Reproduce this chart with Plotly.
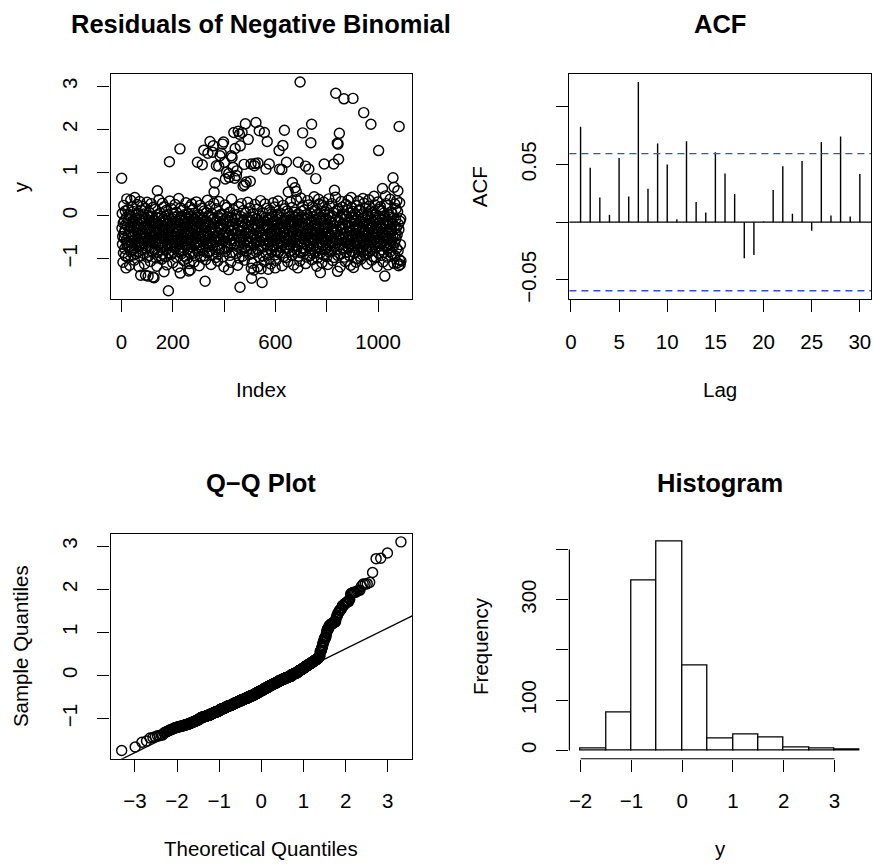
import numpy as np
import plotly.graph_objects as go
from statistics import NormalDist

# ---------------- data ----------------
# residuals in the dense band, in index order (indices not listed as outliers below)
band_values = [
-0.29,0.05,-0.66,-0.48,-1.08,-0.17,-0.86,0.24,-0.40,-0.53,-0.11,-0.76,-0.34,0.11,-0.93,-0.21,-0.57,-0.04,0.39,-0.69,
-0.62,-0.23,0.14,-0.97,-0.45,-0.08,-0.72,-0.37,0.03,-1.15,-0.59,-0.26,-0.83,0.36,-0.02,-0.51,-0.43,-0.79,0.21,-0.15,
-0.74,-0.12,-0.49,0.10,-0.91,-0.27,-0.56,-1.03,-0.19,0.42,-0.68,-0.39,-0.06,-0.88,0.02,-0.33,-0.65,-0.24,0.26,-0.54,
-0.35,-0.84,0.06,-0.60,-0.20,-1.18,-0.46,-0.71,0.33,-0.09,-0.94,-0.30,-0.52,0.13,-0.63,-0.41,-0.14,-0.78,0.22,-0.05,
-0.42,-0.87,-0.13,0.04,-0.64,-0.25,-1.12,-0.53,-0.38,0.17,-0.77,-0.07,-0.48,-0.70,-0.21,0.31,-0.96,-0.32,-0.58,-0.03,
-0.69,-0.29,-0.92,0.07,-0.44,-0.15,-0.57,-1.06,-0.36,-0.75,0.28,-0.01,-0.47,-0.82,-0.18,-0.61,0.19,-0.26,-0.51,-0.09,
-0.11,-0.80,-0.49,-0.23,0.15,-0.65,-0.98,-0.37,-0.04,-0.55,-1.17,-0.31,0.02,-0.85,-0.19,-0.40,-0.67,0.37,-0.06,-0.52,
-0.59,-0.34,0.06,-0.93,-0.17,-0.46,-0.73,-0.02,-1.01,-0.24,-0.62,0.29,-0.89,-0.43,-0.08,-0.54,-0.33,0.21,-0.72,-0.14,
-0.28,-0.95,-0.10,-0.56,0.12,-0.41,-0.78,-1.14,-0.20,-0.66,0.03,-0.48,-0.39,-0.86,-0.05,-0.68,0.34,-0.27,-0.53,-0.12,
-0.63,-0.22,-0.90,0.16,-0.45,-0.07,-0.71,-0.35,-1.09,-0.51,-0.18,0.05,-0.84,-0.30,-0.60,-0.03,-0.47,0.26,-0.76,-0.16,
-0.42,-0.70,0.08,-0.97,-0.26,-0.13,-0.57,-0.49,-1.19,-0.32,-0.83,0.40,-0.09,-0.64,-0.36,-0.21,-0.79,0.18,-0.01,-0.55,
-0.88,-0.29,-0.06,-0.61,0.13,-0.46,-0.74,-0.19,-1.04,-0.38,-0.52,0.02,-0.94,-0.11,-0.44,-0.69,-0.25,0.30,-0.58,-0.04,
-0.31,-0.65,-0.99,-0.17,0.04,-0.48,-0.77,-0.08,-0.53,-1.11,-0.37,0.20,-0.85,-0.23,-0.59,-0.02,-0.40,-0.72,0.27,-0.15,
-0.56,-0.24,0.14,-0.87,-0.43,-0.07,-0.67,-1.07,-0.34,0.06,-0.92,-0.20,-0.51,-0.47,-0.12,-0.75,0.32,-0.30,-0.63,-0.03,
-0.82,-0.14,-0.41,0.03,-0.62,-0.33,-1.16,-0.49,-0.68,0.24,-0.18,-0.96,-0.05,-0.39,-0.54,-0.27,0.17,-0.80,-0.10,-0.60,
-0.45,-0.73,-0.06,0.11,-0.93,-0.28,-0.57,-0.22,-1.02,-0.35,0.07,-0.64,-0.13,-0.86,-0.46,0.36,-0.21,-0.52,-0.71,-0.02,
-0.19,-0.84,-0.48,0.22,-0.66,-0.32,-0.04,-1.13,-0.58,-0.37,0.05,-0.91,-0.26,-0.70,-0.09,-0.42,0.29,-0.55,-0.16,-0.78,
-0.61,-0.36,-0.97,0.16,-0.11,-0.47,-0.69,-0.25,-1.05,-0.01,-0.89,-0.29,0.33,-0.56,-0.40,-0.76,-0.07,0.02,-0.20,-0.53,
-0.31,-0.77,0.04,-0.44,-0.95,-0.12,-0.59,-1.18,-0.23,-0.49,0.25,-0.83,-0.08,-0.38,-0.63,-0.18,0.19,-0.72,-0.03,-0.51,
-0.74,-0.27,-0.46,0.08,-0.92,-0.14,-0.57,-0.34,-1.08,-0.65,0.38,-0.04,-0.85,-0.21,-0.43,-0.54,0.14,-0.30,-0.68,-0.06,
-0.58,-0.17,-0.87,0.03,-0.41,-0.71,-0.09,-1.15,-0.33,-0.52,0.21,-0.98,-0.24,-0.48,-0.62,-0.02,-0.35,0.28,-0.79,-0.15,
-0.28,-0.94,-0.13,0.12,-0.64,-0.47,-1.03,-0.75,-0.19,0.06,-0.39,-0.55,-0.82,-0.05,-0.26,-0.70,0.31,-0.42,-0.60,-0.10,
-0.63,-0.37,-0.90,-0.11,0.18,-0.49,-0.76,-0.22,-1.10,-0.53,-0.03,-0.86,0.05,-0.30,-0.45,-0.67,-0.20,0.26,-0.56,-0.08,
-0.84,-0.32,-0.07,-0.61,0.15,-0.46,-1.19,-0.78,-0.25,-0.40,0.02,-0.96,-0.16,-0.59,-0.36,0.35,-0.69,-0.01,-0.51,-0.18,
-0.44,-0.73,0.07,-0.93,-0.29,-0.12,-0.57,-1.06,-0.34,-0.65,0.27,-0.48,-0.04,-0.88,-0.21,-0.54,0.17,-0.23,-0.70,-0.09,
-0.27,-0.62,-0.99,0.13,-0.42,-0.06,-0.77,-0.38,-1.12,-0.52,-0.17,0.04,-0.83,-0.31,-0.58,-0.02,-0.47,0.30,-0.72,-0.14,
-0.68,-0.24,-0.49,0.20,-0.91,-0.13,-0.55,-1.04,-0.35,-0.80,0.03,-0.08,-0.43,-0.64,-0.20,0.34,-0.85,-0.30,-0.53,-0.03,
-0.60,-0.33,0.06,-0.87,-0.18,-0.46,-0.71,-0.05,-1.16,-0.26,-0.63,0.24,-0.95,-0.41,-0.10,-0.51,-0.37,0.16,-0.74,-0.11,
-0.28,-0.97,-0.07,-0.56,0.11,-0.45,-0.76,-1.07,-0.19,-0.66,0.05,-0.48,-0.36,-0.82,-0.01,-0.69,0.32,-0.22,-0.52,-0.15,
-0.61,-0.25,-0.92,0.19,-0.40,-0.09,-0.70,-0.38,-1.14,-0.54,-0.21,0.08,-0.84,-0.29,-0.59,-0.04,-0.47,0.37,-0.79,-0.12,
-0.42,-0.71,0.04,-0.94,-0.23,-0.10,-0.58,-0.48,-1.05,-0.34,-0.86,0.41,-0.03,-0.62,-0.27,0.10,-0.75,-0.16,0.23,-0.53,
-0.83,-0.30,-0.05,-0.65,0.14,-0.46,-0.78,-0.18,-1.11,-0.36,-0.51,0.02,-0.96,-0.08,-0.40,-0.68,0.35,-0.21,-0.57,0.25,
-0.29,-0.63,-0.93,-0.15,0.06,-0.49,-0.77,-0.11,-0.55,-1.02,-0.37,0.21,-0.88,-0.24,-0.59,-0.02,-0.43,-0.70,0.44,0.12,
-0.56,-0.22,0.13,-0.85,-0.41,-0.09,-0.72,-1.17,-0.35,0.03,-0.98,-0.17,-0.52,-0.47,0.38,-0.74,0.27,-0.31,-0.64,-0.04,
-0.87,-0.12,-0.44,0.05,-0.61,-0.33,-1.09,-0.48,-0.69,0.24,-0.19,-0.91,-0.06,0.31,-0.54,-0.28,0.09,-0.79,-0.25,-0.58,
-0.42,-0.76,-0.07,0.15,-0.95,-0.27,-0.57,-0.20,-1.13,-0.38,0.02,-0.66,0.39,-0.84,-0.46,0.22,-0.16,-0.52,-0.70,-0.03,
-0.14,-0.82,-0.49,0.28,-0.63,-0.30,-0.01,-1.04,-0.59,-0.34,0.07,-0.97,-0.24,-0.71,-0.10,-0.40,0.43,-0.53,0.11,-0.78,
-0.62,-0.36,-0.92,0.16,-0.11,-0.47,-0.68,-0.23,-1.19,-0.05,-0.89,-0.31,0.33,-0.56,-0.43,-0.75,0.04,0.20,-0.18,-0.51,
-0.29,-0.77,0.03,-0.41,-0.96,-0.08,-0.60,-1.06,-0.21,-0.48,0.26,-0.85,-0.02,-0.37,-0.64,-0.17,0.12,-0.72,0.36,-0.54,
-0.74,-0.26,-0.46,0.06,-0.93,-0.15,-0.57,-0.35,-1.15,-0.65,0.42,-0.04,-0.83,0.19,-0.44,-0.52,0.10,-0.32,-0.69,-0.12,
-0.58,-0.19,-0.86,0.05,-0.42,-0.70,-0.09,-1.08,-0.28,-0.55,0.23,-0.99,-0.22,-0.49,-0.61,-0.03,0.34,-0.34,-0.79,0.14,
-0.30,-0.94,-0.13,0.13,-0.63,-0.47,-1.01,-0.76,-0.16,0.02,-0.38,-0.51,-0.84,-0.06,0.40,-0.25,-0.67,0.29,-0.40,-0.59,
-0.66,-0.36,-0.91,-0.10,0.17,-0.48,-0.78,-0.21,-1.12,-0.53,-0.01,-0.88,0.04,-0.33,-0.43,-0.71,0.37,-0.18,0.22,-0.56,
-0.82,-0.29,-0.07,-0.62,0.11,-0.46,-1.03,-0.77,-0.24,-0.41,0.08,-0.95,-0.14,-0.57,-0.35,0.45,-0.68,-0.04,-0.52,0.25,
-0.44,-0.73,0.03,-0.97,-0.27,-0.11,-0.60,-1.18,-0.37,-0.64,0.32,-0.49,-0.05,-0.87,-0.17,-0.54,0.15,-0.23,-0.70,0.21,
-0.26,-0.61,-0.92,0.12,-0.42,-0.08,-0.79,-0.39,-1.07,-0.51,-0.20,0.06,-0.85,-0.31,-0.58,-0.02,-0.47,0.46,-0.72,0.28,
-0.69,-0.22,-0.48,0.24,-0.96,-0.12,-0.55,-1.14,-0.35,-0.75,0.02,-0.03,-0.40,-0.65,-0.15,0.38,-0.83,-0.30,-0.52,0.09,
-0.59,-0.36,0.05,-0.88,-0.19,-0.46,-0.71,-0.06,-1.10,-0.25,-0.63,0.27,-0.93,-0.43,-0.09,-0.54,0.16,-0.28,-0.76,0.35,
-0.44,-1.09,0.09,-0.81,-0.20,-1.16,-0.32,-1.02,0.30,-0.13,-1.13,-0.67,-0.07,-1.05,
]

# clearly separated high residuals (index, value)
high_index = [1,140,187,228,296,315,321,337,345,355,358,361,364,370,379,384,389,394,398,401,
              405,410,418,420,428,431,435,438,441,443,448,450,455,460,463,470,474,478,480,483,
              486,494,502,505,518,521,524,532,537,557,563,568,576,614,616,625,629,635,643,650,
              666,676,681,689,696,706,717,730,738,741,757,790,827,830,835,841,844,846,849,867,
              902,944,972,1002,1017,1058,1062,1077,1082]
high_value = [0.87,0.58,1.25,1.55,1.24,1.18,1.52,1.45,1.72,1.47,1.62,0.55,0.76,1.16,1.15,1.39,1.45,1.66,1.71,1.24,
              0.85,1.01,0.98,0.89,1.39,1.35,1.12,1.93,0.87,1.56,0.93,1.04,1.96,1.89,1.62,1.93,0.69,1.19,0.72,2.13,
              0.78,1.77,0.80,1.20,1.16,1.21,2.16,1.22,1.97,1.93,1.08,1.72,1.20,1.51,1.08,1.07,1.63,1.98,1.24,0.55,
              0.77,0.65,0.56,1.24,3.10,1.92,1.15,1.08,1.69,2.12,0.86,1.20,1.20,0.59,2.84,1.68,1.66,1.31,1.91,2.71,
              2.72,2.39,2.12,1.51,0.63,0.88,0.66,0.58,2.07]

# clearly separated low residuals (index, value)
low_index = [18,75,94,104,123,127,166,183,229,262,268,326,417,462,506,507,516,544,548,572,599,687,775,842,904,1026]
low_value = [-1.21,-1.38,-1.38,-1.40,-1.42,-1.44,-1.30,-1.74,-1.33,-1.28,-1.26,-1.52,-1.25,-1.66,-1.22,-1.45,-1.26,-1.23,-1.55,-1.24,-1.21,-1.21,-1.32,-1.29,-1.20,-1.40]

# autocorrelations, lags 1..30
acf_lag = [1,2,3,4,5,6,7,8,9,10,11,12,13,14,15,16,17,18,19,20,21,22,23,24,25,26,27,28,29,30]
acf_value = [0.0825,0.0471,0.0213,0.0063,0.0555,0.0221,0.1213,0.0290,0.0681,0.0500,
             0.0026,0.0701,0.0175,0.0083,0.0606,0.0420,0.0244,-0.0313,-0.0284,0.0006,
             0.0279,0.0483,0.0072,0.0529,-0.0075,0.0693,0.0057,0.0741,0.0049,0.0417]

hist_breaks = [-2.0,-1.5,-1.0,-0.5,0.0,0.5,1.0,1.5,2.0,2.5,3.0,3.5]

# tick labels
idx_ticks = [0,200,400,600,800,1000]
idx_ticktext = ['0','200','','600','','1000']
res_ticks = [-1,0,1,2,3]
res_ticktext = ['\u22121','0','1','2','3']
acf_yticks = [-0.05,0.0,0.05,0.10]
acf_yticktext = ['\u22120.05','','0.05','']
lag_ticks = [0,5,10,15,20,25,30]
qq_xticks = [-3,-2,-1,0,1,2,3]
qq_xticktext = ['\u22123','\u22122','\u22121','0','1','2','3']
hist_xticks = [-2,-1,0,1,2,3]
hist_xticktext = ['\u22122','\u22121','0','1','2','3']
freq_ticks = [0,100,200,300,400]
freq_ticktext = ['0','100','','300','']

# ---------------- assemble residual series ----------------
special = dict(zip(high_index + low_index, high_value + low_value))
n = len(band_values) + len(special)
band_iter = iter(band_values)
resid = np.array([special[i] if i in special else next(band_iter) for i in range(1, n + 1)])
index = np.arange(1, n + 1)

def rrange(lo, hi):
    d = (hi - lo) * 0.04
    return [lo - d, hi + d]

nd = NormalDist()
theo = np.array([nd.inv_cdf((i - 0.5) / n) for i in range(1, n + 1)])
samp = np.sort(resid)
q1, q3 = np.quantile(resid, [0.25, 0.75])
x1, x3 = nd.inv_cdf(0.25), nd.inv_cdf(0.75)
slope = (q3 - q1) / (x3 - x1)
icpt = q1 - slope * x1

clim = nd.inv_cdf(0.975) / np.sqrt(n)
counts = np.histogram(resid, bins=hist_breaks)[0]

# ---------------- layout geometry (pixels) ----------------
W, H = 874, 865
FONT = 'Liberation Sans, Arial, Helvetica, sans-serif'
BL = [107, 568]          # box left
BR = [410, 871]          # box right
BT = [74, 536]           # box top
BB = [300.5, 762.3]      # box bottom

def dx(i):
    return [BL[i] / W, BR[i] / W]

def dy(j):
    return [1 - BB[j] / H, 1 - BT[j] / H]

LW = 1.2
base_ax = dict(showgrid=False, zeroline=False, ticks='outside', ticklen=12,
               tickwidth=LW, tickcolor='black', linecolor='black', linewidth=LW,
               tickfont=dict(family=FONT, size=20.5, color='black'),
               tickmode='array', ticklabelstandoff=12)

def xax(**kw):
    d = dict(base_ax); d.update(kw); return d

def yax(**kw):
    d = dict(base_ax); d.update(tickangle=-90); d.update(kw); return d

marker = dict(symbol='circle-open', size=10, color='black', line=dict(width=1.45, color='black'))

fig = go.Figure()
# panel 1: residuals vs index
fig.add_trace(go.Scatter(x=index, y=resid, mode='markers', marker=marker,
                         xaxis='x', yaxis='y', showlegend=False, hoverinfo='skip'))
# panel 2: ACF
ax_, ay_ = [], []
for l, v in zip(acf_lag, acf_value):
    ax_ += [l, l, None]
    ay_ += [0, v, None]
fig.add_trace(go.Scatter(x=ax_, y=ay_, mode='lines', line=dict(color='black', width=1.4),
                         xaxis='x2', yaxis='y2', showlegend=False, hoverinfo='skip'))
# panel 3: QQ
fig.add_trace(go.Scatter(x=theo, y=samp, mode='markers', marker=marker,
                         xaxis='x3', yaxis='y3', showlegend=False, hoverinfo='skip'))
qq_xr = rrange(theo.min(), theo.max())
fig.add_trace(go.Scatter(x=[qq_xr[0] - 1, qq_xr[1] + 1],
                         y=[icpt + slope * (qq_xr[0] - 1), icpt + slope * (qq_xr[1] + 1)],
                         mode='lines', line=dict(color='black', width=1.3),
                         xaxis='x3', yaxis='y3', showlegend=False, hoverinfo='skip'))
# panel 4: histogram
fig.add_trace(go.Histogram(x=resid, xbins=dict(start=hist_breaks[0], end=hist_breaks[-1],
                                               size=hist_breaks[1] - hist_breaks[0]),
                           marker=dict(color='white', line=dict(color='black', width=1.3)),
                           xaxis='x4', yaxis='y4', showlegend=False, hoverinfo='skip'))

res_range = rrange(resid.min(), resid.max())
acf_lo = min(-clim, min(acf_value)); acf_hi = max(clim, max(acf_value))
hmax = counts.max()

fig.update_layout(
    width=W, height=H, autosize=False, margin=dict(l=0, r=0, t=0, b=0),
    paper_bgcolor='white', plot_bgcolor='white', bargap=0,
    xaxis=xax(domain=dx(0), anchor='y', range=rrange(1, n), tickvals=idx_ticks,
              ticktext=idx_ticktext, showline=True, mirror=True),
    yaxis=yax(domain=dy(0), anchor='x', range=res_range, tickvals=res_ticks,
              ticktext=res_ticktext, showline=True, mirror=True),
    xaxis2=xax(domain=dx(1), anchor='y2', range=rrange(min(acf_lag), max(acf_lag)),
               tickvals=lag_ticks, ticktext=[str(t) for t in lag_ticks], showline=True, mirror=True),
    yaxis2=yax(domain=dy(0), anchor='x2', range=rrange(acf_lo, acf_hi), tickvals=acf_yticks,
               ticktext=acf_yticktext, showline=True, mirror=True),
    xaxis3=xax(domain=dx(0), anchor='y3', range=qq_xr, tickvals=qq_xticks,
               ticktext=qq_xticktext, showline=True, mirror=True),
    yaxis3=yax(domain=dy(1), anchor='x3', range=res_range, tickvals=res_ticks,
               ticktext=res_ticktext, showline=True, mirror=True),
    xaxis4=xax(domain=dx(1), anchor='y4', range=rrange(hist_breaks[0], hist_breaks[-1]),
               tickvals=hist_xticks, ticktext=hist_xticktext, showline=False),
    yaxis4=yax(domain=dy(1), anchor='x4', range=rrange(0, hmax), tickvals=freq_ticks,
               ticktext=freq_ticktext, showline=False),
)

shapes = [
    # ACF zero line and confidence bounds
    dict(type='line', xref='x2 domain', yref='y2', x0=0, x1=1, y0=0, y1=0,
         line=dict(color='black', width=LW)),
    dict(type='line', xref='x2 domain', yref='y2', x0=0, x1=1, y0=clim, y1=clim,
         line=dict(color='#2f52dc', width=1.3, dash='7px,5px')),
    dict(type='line', xref='x2 domain', yref='y2', x0=0, x1=1, y0=-clim, y1=-clim,
         line=dict(color='#2f52dc', width=1.3, dash='7px,5px')),
    # histogram axis lines (R style, from first to last tick)
    dict(type='line', xref='x4', yref='y4 domain', x0=hist_xticks[0], x1=hist_xticks[-1],
         y0=0, y1=0, line=dict(color='black', width=LW)),
    dict(type='line', xref='x4 domain', yref='y4', x0=0, x1=0, y0=freq_ticks[0],
         y1=freq_ticks[-1], line=dict(color='black', width=LW)),
]
fig.update_layout(shapes=shapes)

def ann(text, xpx, ypx, size=20.5, angle=0):
    return dict(text=text, x=xpx / W, y=1 - ypx / H, xref='paper', yref='paper',
                xanchor='center', yanchor='middle', showarrow=False, textangle=angle,
                font=dict(family=FONT, size=size, color='black'))

cx = [(BL[0] + BR[0]) / 2, (BL[1] + BR[1]) / 2]
cy = [(BT[0] + BB[0]) / 2, (BT[1] + BB[1]) / 2]
annotations = [
    ann('<b>Residuals of Negative Binomial</b>', cx[0], 24, 25.5),
    ann('<b>ACF</b>', cx[1], 24, 25.5),
    ann('<b>Q\u2212Q Plot</b>', cx[0], 485, 25.5),
    ann('<b>Histogram</b>', cx[1], 485, 25.5),
    ann('Index', cx[0], 391),
    ann('Lag', cx[1], 391),
    ann('Theoretical Quantiles', cx[0], 852),
    ann('y', cx[1], 852),
    ann('y', BL[0] - 91, cy[0], angle=-90),
    ann('ACF', BL[1] - 90, cy[0], angle=-90),
    ann('Sample Quantiles', BL[0] - 91, cy[1], angle=-90),
    ann('Frequency', BL[1] - 90, cy[1], angle=-90),
]
fig.update_layout(annotations=annotations)

fig.write_html('out.html')
